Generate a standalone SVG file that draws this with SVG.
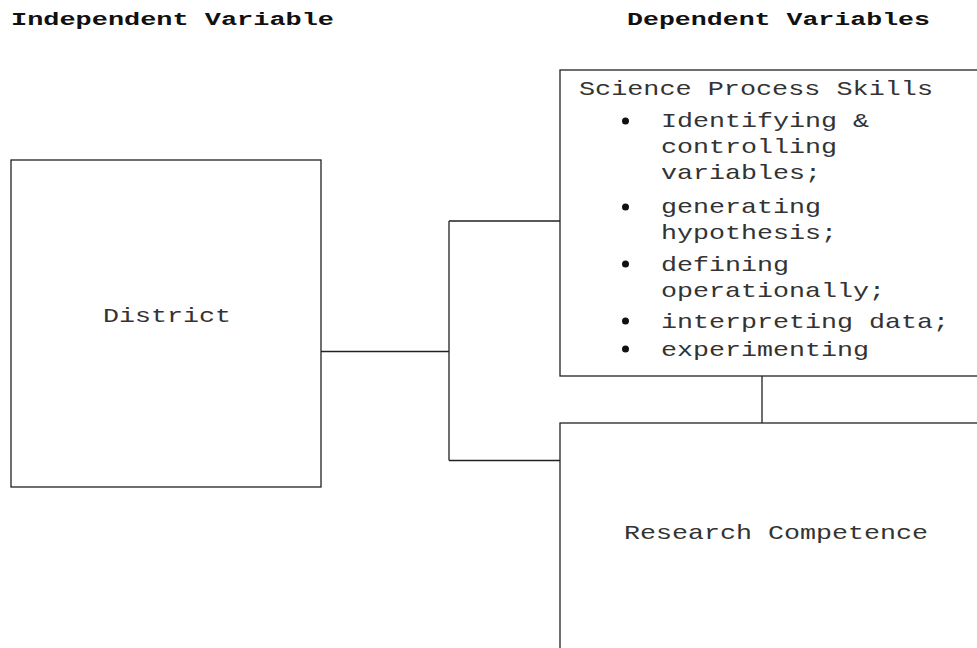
<svg xmlns="http://www.w3.org/2000/svg" width="977" height="648" viewBox="0 0 977 648">
<style>
.box{fill:#fff;stroke:#222;stroke-width:1.3}
.ln{fill:none;stroke:#222;stroke-width:1.3}
.t{font-family:"Liberation Mono","Courier New",monospace;font-size:21px;fill:#333}
.h{font-family:"Liberation Mono","Courier New",monospace;font-size:19px;font-weight:bold;fill:#111}
.b{fill:#111}
</style>
<rect width="977" height="648" fill="#fff"/>
<g id="headers">
<text class="h" x="11" y="25" textLength="323" lengthAdjust="spacingAndGlyphs">Independent Variable</text>
<text class="h" x="627" y="25" textLength="303" lengthAdjust="spacingAndGlyphs">Dependent Variables</text>
</g>
<g id="connectors">
<path class="ln" d="M321 351.5H449M449 221V460.5M449 221H560M449 460.5H560M762 376V423"/>
</g>
<g id="district">
<rect class="box" x="11" y="160" width="310" height="327"/>
<text class="t" x="103" y="322" textLength="128" lengthAdjust="spacingAndGlyphs">District</text>
</g>
<g id="science">
<rect class="box" x="560" y="70" width="430" height="306"/>
<text class="t" x="579" y="95" textLength="354" lengthAdjust="spacingAndGlyphs">Science Process Skills</text>
<circle class="b" cx="625.5" cy="121" r="3.5"/>
<circle class="b" cx="625.5" cy="207" r="3.5"/>
<circle class="b" cx="625.5" cy="264" r="3.5"/>
<circle class="b" cx="625.5" cy="321" r="3.5"/>
<circle class="b" cx="625.5" cy="349" r="3.5"/>
<text class="t" x="661" y="127" textLength="208" lengthAdjust="spacingAndGlyphs">Identifying &amp;</text>
<text class="t" x="661" y="153" textLength="176" lengthAdjust="spacingAndGlyphs">controlling</text>
<text class="t" x="661" y="179" textLength="160" lengthAdjust="spacingAndGlyphs">variables;</text>
<text class="t" x="661" y="213" textLength="160" lengthAdjust="spacingAndGlyphs">generating</text>
<text class="t" x="661" y="239" textLength="176" lengthAdjust="spacingAndGlyphs">hypothesis;</text>
<text class="t" x="661" y="271" textLength="128" lengthAdjust="spacingAndGlyphs">defining</text>
<text class="t" x="661" y="297" textLength="224" lengthAdjust="spacingAndGlyphs">operationally;</text>
<text class="t" x="661" y="328" textLength="288" lengthAdjust="spacingAndGlyphs">interpreting data;</text>
<text class="t" x="661" y="356" textLength="208" lengthAdjust="spacingAndGlyphs">experimenting</text>
</g>
<g id="research">
<rect class="box" x="560" y="423" width="430" height="240"/>
<text class="t" x="624" y="539" textLength="304" lengthAdjust="spacingAndGlyphs">Research Competence</text>
</g>
</svg>
